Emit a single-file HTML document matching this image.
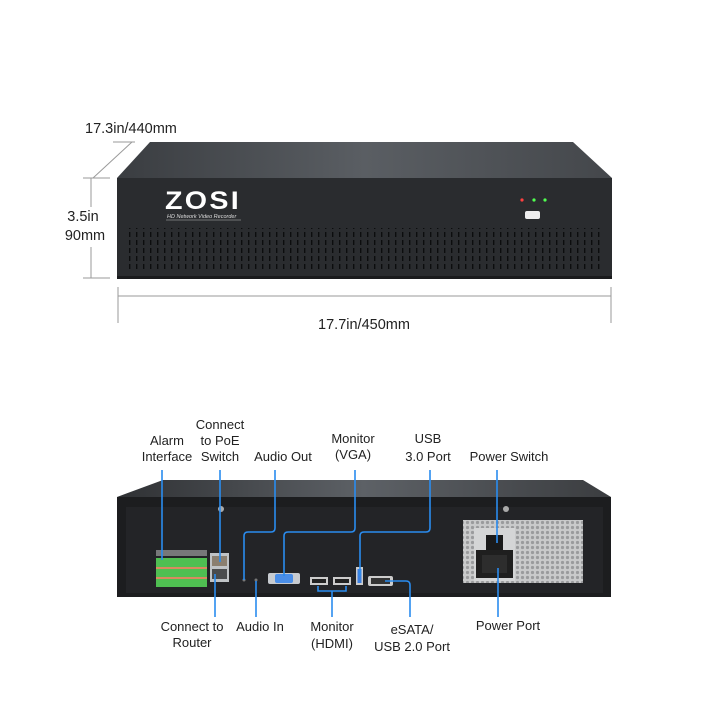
<!DOCTYPE html>
<html><head><meta charset="utf-8"><style>
html,body{margin:0;padding:0;background:#fff;}
svg{display:block;font-family:"Liberation Sans",sans-serif;}
</style></head><body>
<svg width="720" height="720" viewBox="0 0 720 720" xmlns="http://www.w3.org/2000/svg">
<defs>
<linearGradient id="top" x1="0" y1="0" x2="1" y2="0">
<stop offset="0" stop-color="#3a3d41"/><stop offset="0.5" stop-color="#5a5e63"/><stop offset="1" stop-color="#44474b"/>
</linearGradient>
<linearGradient id="rtop" x1="0" y1="0" x2="1" y2="0">
<stop offset="0" stop-color="#2f3134"/><stop offset="0.5" stop-color="#5d6166"/><stop offset="1" stop-color="#3b3d40"/>
</linearGradient>
<pattern id="vent" width="7" height="48" patternUnits="userSpaceOnUse">
<rect x="3" y="0" width="1.4" height="5" fill="#0c0d0e"/><rect x="3" y="8" width="1.4" height="5" fill="#0c0d0e"/>
<rect x="3" y="16" width="1.4" height="5" fill="#0c0d0e"/><rect x="3" y="24" width="1.4" height="5" fill="#0c0d0e"/>
<rect x="3" y="32" width="1.4" height="5" fill="#0c0d0e"/><rect x="3" y="40" width="1.4" height="5" fill="#0c0d0e"/>
</pattern>
<pattern id="grill" width="5" height="5" patternUnits="userSpaceOnUse">
<rect width="5" height="5" fill="#c9cacb"/><circle cx="2.5" cy="2.5" r="1.6" fill="#9a9b9d"/>
</pattern>
</defs>

<g stroke="#9a9a9a" stroke-width="1" fill="none">
<line x1="93" y1="178" x2="132" y2="142"/>
<line x1="113" y1="142" x2="135" y2="142"/>
<line x1="83" y1="178" x2="110" y2="178"/>
<line x1="83" y1="278" x2="110" y2="278"/>
<line x1="91" y1="178" x2="91" y2="207"/>
<line x1="91" y1="247" x2="91" y2="278"/>
<line x1="118" y1="296" x2="611" y2="296"/>
<line x1="118" y1="287" x2="118" y2="323"/>
<line x1="611" y1="287" x2="611" y2="323"/>
</g>
<g fill="#222" font-size="14.5">
<text x="85" y="133">17.3in/440mm</text>
<text x="83" y="221" text-anchor="middle">3.5in</text>
<text x="85" y="240" text-anchor="middle">90mm</text>
<text x="364" y="329" text-anchor="middle">17.7in/450mm</text>
</g>

<polygon points="117,178 150,142 573,142 612,178" fill="url(#top)"/>
<rect x="117" y="178" width="495" height="99" fill="#2a2c2f"/>
<rect x="117" y="276" width="495" height="3" fill="#1a1b1d"/>
<text x="165" y="209" fill="#fff" font-size="25" font-weight="bold" letter-spacing="2" textLength="76" lengthAdjust="spacingAndGlyphs">ZOSI</text>
<text x="167" y="218" fill="#ddd" font-size="5.5" font-style="italic">HD Network Video Recorder</text>
<line x1="166" y1="220" x2="241" y2="220" stroke="#bbb" stroke-width="0.6"/>
<circle cx="522" cy="200" r="1.6" fill="#ff4040"/>
<circle cx="534" cy="200" r="1.6" fill="#50ff50"/>
<circle cx="545" cy="200" r="1.6" fill="#50ff50"/>
<rect x="525" y="211" width="15" height="8" rx="2" fill="#eee"/>
<rect x="128" y="228" width="474" height="44" fill="url(#vent)"/>

<polygon points="117,497 163,480 583,480 611,497" fill="url(#rtop)"/>
<rect x="117" y="497" width="494" height="100" fill="#1c1d1f"/>
<rect x="126" y="507" width="477" height="86" fill="#232427"/>
<circle cx="221" cy="509" r="3" fill="#aaa"/>
<circle cx="506" cy="509" r="3" fill="#aaa"/>
<rect x="156" y="550" width="51" height="6" fill="#ccc" opacity="0.5"/>
<rect x="156" y="558" width="51" height="29" fill="#4fbf52"/>
<rect x="156" y="567" width="51" height="2" fill="#d98a60"/>
<rect x="156" y="577" width="51" height="2" fill="#d98a60"/>
<rect x="210" y="553" width="19" height="29" fill="#bfc3c6"/>
<rect x="212" y="556" width="15" height="10" fill="#8a7f70"/>
<rect x="212" y="569" width="15" height="10" fill="#4a4c4e"/>
<circle cx="244" cy="580" r="1.5" fill="#777"/>
<circle cx="256" cy="580" r="1.5" fill="#777"/>
<rect x="268" y="573" width="32" height="11" rx="2" fill="#c7cbd0"/>
<rect x="275" y="574" width="18" height="9" rx="2" fill="#4a8ee8"/>
<rect x="310" y="577" width="18" height="8" fill="#ccc"/><rect x="312" y="579" width="14" height="4" fill="#222"/>
<rect x="333" y="577" width="18" height="8" fill="#ccc"/><rect x="335" y="579" width="14" height="4" fill="#222"/>
<rect x="356" y="567" width="7" height="18" fill="#ccc"/><rect x="357.5" y="569" width="4" height="14" fill="#3c7fe0"/>
<rect x="368" y="576" width="25" height="10" rx="2" fill="#ccc"/><rect x="371" y="578" width="19" height="6" fill="#333"/>
<rect x="463" y="520" width="120" height="63" fill="url(#grill)"/>
<rect x="474" y="528" width="41" height="53" fill="#d4d5d6"/>
<rect x="486" y="535" width="17" height="15" fill="#1a1a1a"/>
<rect x="476" y="550" width="37" height="28" fill="#1f1f1f"/>
<rect x="482" y="555" width="25" height="18" fill="#2d2d2d"/>

<g stroke="#2a8cef" stroke-width="1.6" fill="none">
<line x1="162" y1="470" x2="162" y2="560"/>
<line x1="220" y1="470" x2="220" y2="562"/>
<path d="M275 470 V528 Q275 532 271 532 H248 Q244 532 244 536 V580"/>
<path d="M355 470 V528 Q355 532 351 532 H288 Q284 532 284 536 V576"/>
<path d="M430 470 V528 Q430 532 426 532 H364 Q360 532 360 536 V576"/>
<line x1="497" y1="470" x2="497" y2="543"/>
<line x1="215" y1="574" x2="215" y2="617"/>
<line x1="256" y1="581" x2="256" y2="617"/>
<path d="M318 586 V591 H346 V586"/>
<line x1="332" y1="591" x2="332" y2="617"/>
<path d="M385 581 H406 Q410 581 410 585 V617"/>
<line x1="498" y1="568" x2="498" y2="617"/>
</g>

<g fill="#222" font-size="13" text-anchor="middle">
<text x="167" y="445">Alarm</text><text x="167" y="461">Interface</text>
<text x="220" y="429">Connect</text><text x="220" y="445">to PoE</text><text x="220" y="461">Switch</text>
<text x="283" y="461">Audio Out</text>
<text x="353" y="443">Monitor</text><text x="353" y="459">(VGA)</text>
<text x="428" y="443">USB</text><text x="428" y="461">3.0 Port</text>
<text x="509" y="461">Power Switch</text>
<text x="192" y="631">Connect to</text><text x="192" y="647">Router</text>
<text x="260" y="631">Audio In</text>
<text x="332" y="631">Monitor</text><text x="332" y="648">(HDMI)</text>
<text x="412" y="634">eSATA/</text><text x="412" y="651">USB 2.0 Port</text>
<text x="508" y="630">Power Port</text>
</g>
</svg>
</body></html>
